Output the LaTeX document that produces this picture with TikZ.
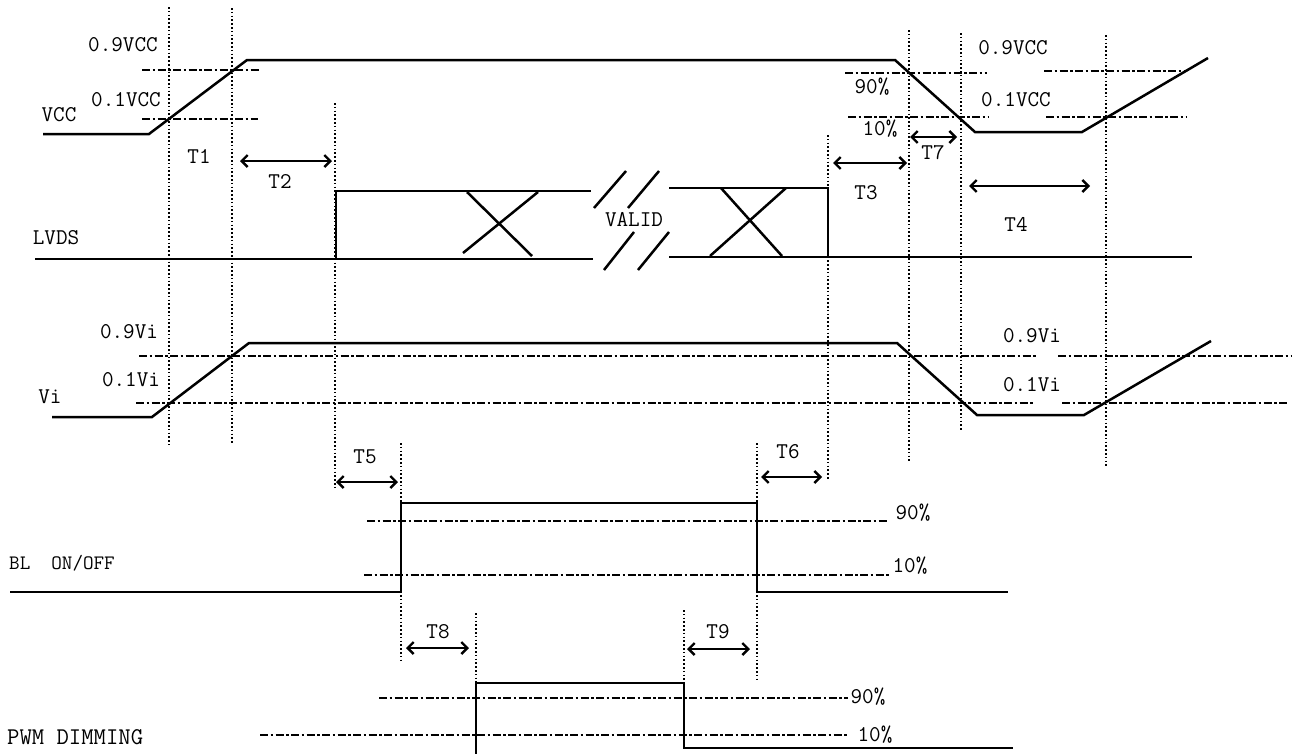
\documentclass[tikz,border=0pt]{standalone}
\usepackage{fontspec}
\usetikzlibrary{arrows.meta}
\begin{document}
\begin{tikzpicture}[x=1pt,y=-1pt,
  wave/.style={line width=2.5pt, line join=miter},
  vdot/.style={line width=1.6pt, dash pattern=on 1.6pt off 2.2pt},
  thr/.style={line width=2.2pt, dash pattern=on 8pt off 2.5pt on 2.5pt off 2.5pt},
  dim/.style={line width=2.4pt, {Straight Barb[length=6pt,width=12pt]}-{Straight Barb[length=6pt,width=12pt]}},
  lbl/.style={inner sep=0pt, font=\ttfamily\fontsize{22.5}{26}\selectfont},
  slbl/.style={inner sep=0pt, font=\ttfamily\fontsize{20.5}{24}\selectfont},
  blbl/.style={inner sep=0pt, font=\ttfamily\fontsize{24}{28}\selectfont}]
\path[use as bounding box, fill=white] (0,0) rectangle (1296,753);

% ---------- vertical dotted timing lines ----------
\draw[vdot] (169,7) -- (169,445);
\draw[vdot] (232,8) -- (232,443);
\draw[vdot] (335,103) -- (335,490);
\draw[vdot] (828,135) -- (828,480);
\draw[vdot] (909,30) -- (909,461);
\draw[vdot] (961,33) -- (961,430);
\draw[vdot] (1106,35) -- (1106,467);
\draw[vdot] (401,443) -- (401,662);
\draw[vdot] (757,443) -- (757,681);
\draw[vdot] (476,613) -- (476,683);
\draw[vdot] (684,610) -- (684,683);

% ---------- VCC ----------
\draw[thr] (142,70) -- (260,70);
\draw[thr] (142,119) -- (258,119);
\draw[thr] (845,73) -- (987,73);
\draw[thr] (848,117) -- (988,117);
\draw[thr] (1044,71) -- (1187,71);
\draw[thr] (1046,117) -- (1187,117);
\draw[wave] (43,134) -- (149,134) -- (247,60) -- (895,60) -- (975,132) -- (1082,132) -- (1208,58);
\node[lbl] (vcc) at (59,115) {VCC};
\node[lbl] (vcc9l) at (123,45) {0.9VCC};
\node[lbl] (vcc1l) at (126,100) {0.1VCC};
\node[lbl] (vcc9r) at (1013,48) {0.9VCC};
\node[lbl] (vcc1r) at (1016,100) {0.1VCC};
\node[lbl] (p90a) at (872,87) {90\%};
\node[lbl] (p10a) at (880,129) {10\%};

% timing arrows (upper)
\node[lbl] (t1) at (199,156) {T1};
\draw[dim] (240,161) -- (332,161);
\node[lbl] (t2) at (280,181) {T2};
\draw[dim] (833,163) -- (907,163);
\node[lbl] (t3) at (866,193) {T3};
\draw[dim] (910,137) -- (957,137);
\node[lbl] (t7) at (933,153) {T7};
\draw[dim] (969,186) -- (1090,186);
\node[lbl] (t4) at (1016,224) {T4};

% ---------- LVDS ----------
\node[lbl] (lvds) at (56,238) {LVDS};
\draw[wave] (35,259) -- (593,259);
\draw[wave] (336,259) -- (336,191) -- (591,191);
\draw[wave] (467,192) -- (532,256);
\draw[wave] (463,253) -- (538,192);
\draw[wave] (594,208) -- (626,171);
\draw[wave] (628,208) -- (659,171);
\draw[wave] (604,270) -- (634,232);
\draw[wave] (638,270) -- (669,232);
\node[lbl] (valid) at (634,220) {VALID};
\draw[wave] (669,188) -- (828,188) -- (828,257);
\draw[wave] (669,257) -- (1192,257);
\draw[wave] (721,188) -- (782,256);
\draw[wave] (710,256) -- (786,188);

% ---------- Vi ----------
\draw[thr] (139,356) -- (1036,356);
\draw[thr] (1058,356) -- (1292,356);
\draw[thr] (136,403) -- (1033,403);
\draw[thr] (1062,403) -- (1289,403);
\draw[wave] (52,417) -- (152,417) -- (249,343) -- (897,343) -- (977,415) -- (1084,415) -- (1211,341);
\node[lbl] (vi) at (50,397) {Vi};
\node[lbl] (vi9l) at (129,332) {0.9Vi};
\node[lbl] (vi1l) at (131,380) {0.1Vi};
\node[lbl] (vi9r) at (1032,336) {0.9Vi};
\node[lbl] (vi1r) at (1032,385) {0.1Vi};

% ---------- BL ON/OFF ----------
\draw[dim] (336,482) -- (398,482);
\node[lbl] (t5) at (365,457) {T5};
\draw[dim] (761,477) -- (822,477);
\node[lbl] (t6) at (788,452) {T6};
\draw[thr] (367,521) -- (887,521);
\draw[thr] (364,575) -- (889,575);
\draw[wave] (10,592) -- (401,592) -- (401,503) -- (757,503) -- (757,592) -- (1008,592);
\node[slbl, anchor=west] (bl) at (9,563) {BL\ \ ON/OFF};
\node[lbl] (p90b) at (913,513) {90\%};
\node[lbl] (p10b) at (910,566) {10\%};

% ---------- PWM DIMMING ----------
\draw[dim] (406,648) -- (469,648);
\node[lbl] (t8) at (438,632) {T8};
\draw[dim] (687,649) -- (750,649);
\node[lbl] (t9) at (718,632) {T9};
\draw[thr] (379,698) -- (848,698);
\draw[thr] (260,735) -- (848,735);
\draw[wave] (476,755) -- (476,683) -- (684,683) -- (684,748) -- (1013,748);
\node[blbl, anchor=west] (pwm) at (7,737) {PWM DIMMING};
\node[lbl] (p90c) at (868,697) {90\%};
\node[lbl] (p10c) at (875,735) {10\%};
\end{tikzpicture}
\end{document}
